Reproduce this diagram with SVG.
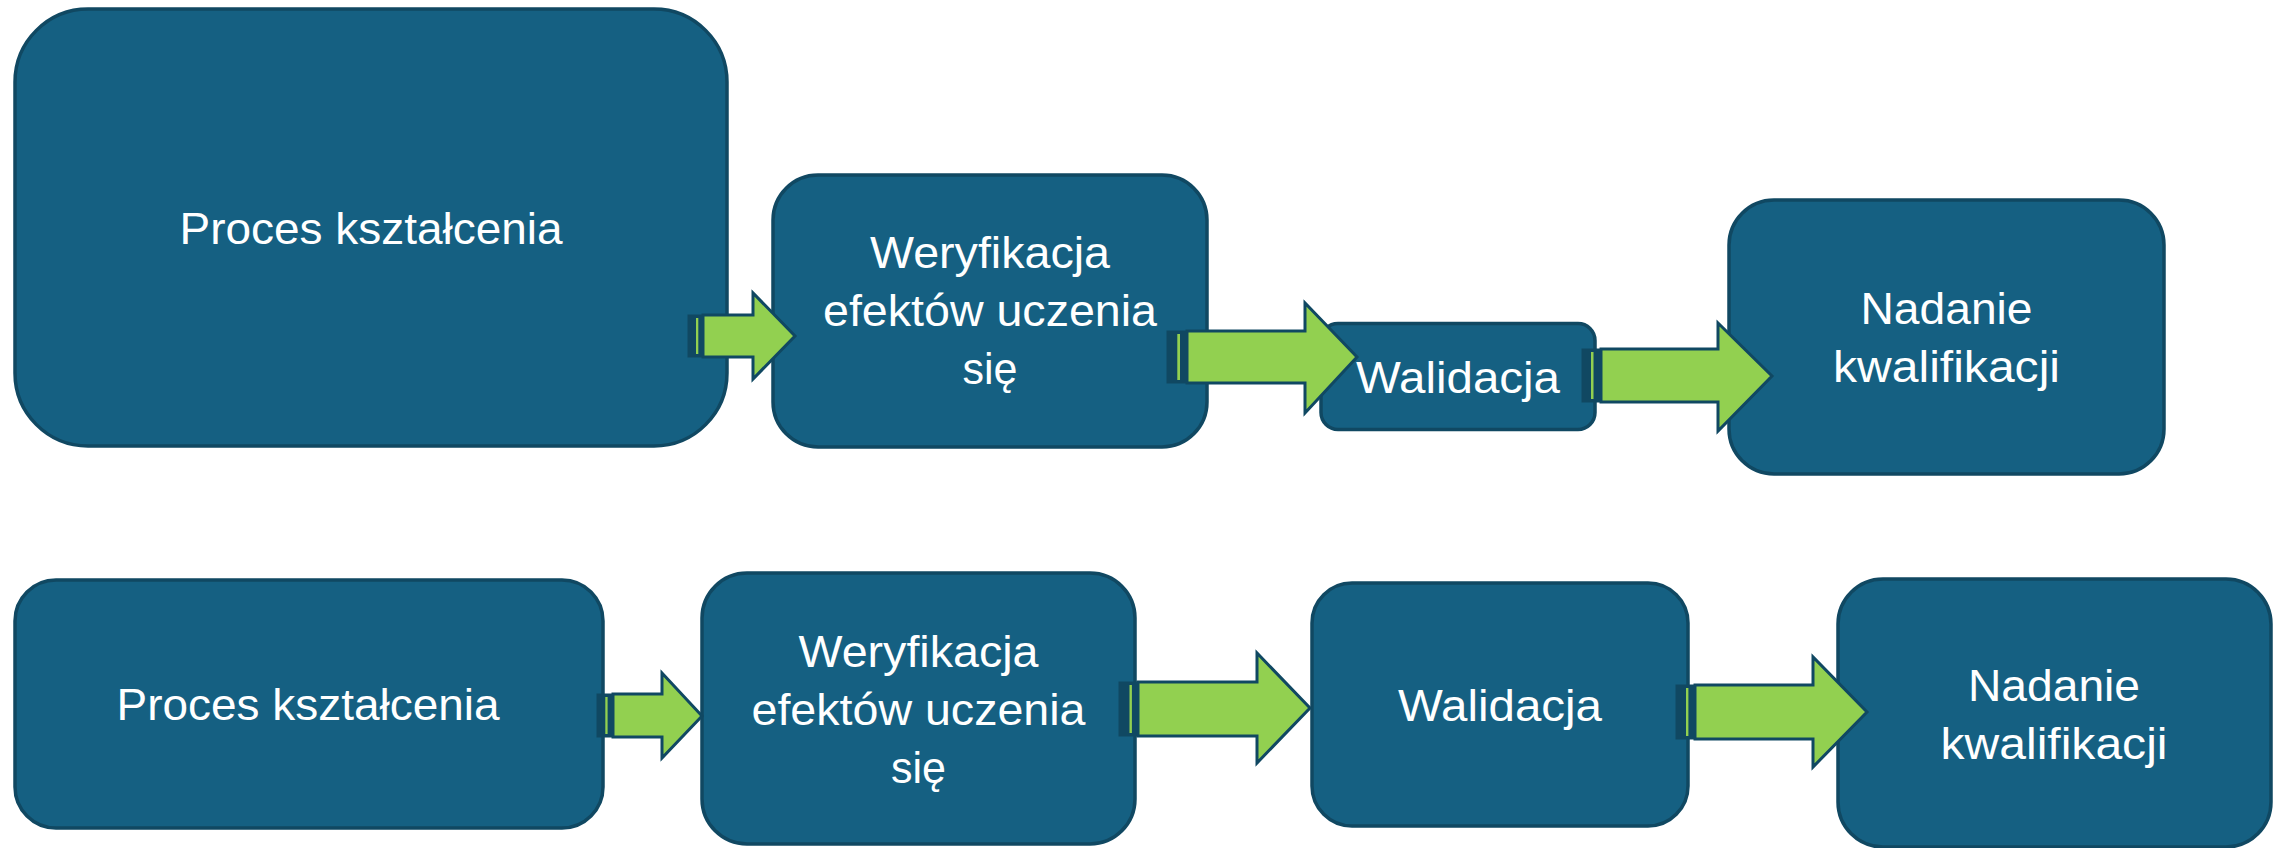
<svg xmlns="http://www.w3.org/2000/svg" width="2285" height="848" viewBox="0 0 2285 848">
<style>
.box{fill:#156082;stroke:#104862;stroke-width:3.5}
.lbl{font-family:"Liberation Sans",Arial,sans-serif;font-size:44px;fill:#ffffff;text-anchor:middle}
.body{fill:#92D050;stroke:#104862;stroke-width:3;stroke-linejoin:miter}
.stub{fill:#104862;stroke:#104862;stroke-width:1}
.strip{fill:#92D050}
</style>
<rect width="2285" height="848" fill="#ffffff"/>
<g id="node-proces-top">
<rect class="box" x="15" y="9" width="712" height="437" rx="73" ry="73"/>
<text class="lbl" x="371" y="243.5" textLength="383" lengthAdjust="spacingAndGlyphs">Proces kształcenia</text>
</g>
<g id="node-weryfikacja-top">
<rect class="box" x="773" y="175" width="434" height="272" rx="45" ry="45"/>
<text class="lbl" x="990" y="268" textLength="240" lengthAdjust="spacingAndGlyphs">Weryfikacja</text>
<text class="lbl" x="990" y="326" textLength="334" lengthAdjust="spacingAndGlyphs">efektów uczenia</text>
<text class="lbl" x="990" y="384" textLength="55" lengthAdjust="spacingAndGlyphs">się</text>
</g>
<g id="node-walidacja-top">
<rect class="box" x="1321" y="323.5" width="274" height="106" rx="17" ry="17"/>
<text class="lbl" x="1458" y="392.5" textLength="204" lengthAdjust="spacingAndGlyphs">Walidacja</text>
</g>
<g id="node-nadanie-top">
<rect class="box" x="1729" y="200" width="435" height="274" rx="45" ry="45"/>
<text class="lbl" x="1946.5" y="324" textLength="172" lengthAdjust="spacingAndGlyphs">Nadanie</text>
<text class="lbl" x="1946.5" y="382" textLength="227" lengthAdjust="spacingAndGlyphs">kwalifikacji</text>
</g>
<g id="node-proces-bottom">
<rect class="box" x="15" y="580" width="588" height="248" rx="41" ry="41"/>
<text class="lbl" x="308" y="720" textLength="383" lengthAdjust="spacingAndGlyphs">Proces kształcenia</text>
</g>
<g id="node-weryfikacja-bottom">
<rect class="box" x="702" y="573" width="433" height="271" rx="45" ry="45"/>
<text class="lbl" x="918.5" y="666.5" textLength="240" lengthAdjust="spacingAndGlyphs">Weryfikacja</text>
<text class="lbl" x="918.5" y="724.5" textLength="334" lengthAdjust="spacingAndGlyphs">efektów uczenia</text>
<text class="lbl" x="918.5" y="782.5" textLength="55" lengthAdjust="spacingAndGlyphs">się</text>
</g>
<g id="node-walidacja-bottom">
<rect class="box" x="1312" y="583" width="376" height="243" rx="40" ry="40"/>
<text class="lbl" x="1500" y="720.5" textLength="204" lengthAdjust="spacingAndGlyphs">Walidacja</text>
</g>
<g id="node-nadanie-bottom">
<rect class="box" x="1838" y="579" width="433" height="268" rx="45" ry="45"/>
<text class="lbl" x="2054" y="701" textLength="172" lengthAdjust="spacingAndGlyphs">Nadanie</text>
<text class="lbl" x="2054" y="759" textLength="227" lengthAdjust="spacingAndGlyphs">kwalifikacji</text>
</g>
<g id="connectors">
<g id="arrow-1">
<rect class="stub" x="688" y="315" width="15" height="42"/>
<rect class="strip" x="696" y="318" width="2.3" height="36"/>
<polygon class="body" points="703,315 753,315 753,293 795,336 753,379 753,357 703,357"/>
</g>
<g id="arrow-2">
<rect class="stub" x="1167" y="331" width="20" height="52"/>
<rect class="strip" x="1177.3" y="334" width="2.7" height="46"/>
<polygon class="body" points="1187,331 1305,331 1305,303 1357,357 1305,413 1305,383 1187,383"/>
</g>
<g id="arrow-3">
<rect class="stub" x="1582" y="349" width="19" height="53"/>
<rect class="strip" x="1591" y="352" width="2.5" height="47"/>
<polygon class="body" points="1601,349 1718,349 1718,323 1772,376 1718,431 1718,402 1601,402"/>
</g>
<g id="arrow-4">
<rect class="stub" x="597" y="694" width="16" height="43"/>
<rect class="strip" x="605.3" y="697" width="2.3" height="37"/>
<polygon class="body" points="613,694 662,694 662,673 702,716 662,758 662,737 613,737"/>
</g>
<g id="arrow-5">
<rect class="stub" x="1119" y="682" width="19" height="54"/>
<rect class="strip" x="1129.5" y="685" width="2.4" height="48"/>
<polygon class="body" points="1138,682 1257,682 1257,653 1310,708 1257,763 1257,736 1138,736"/>
</g>
<g id="arrow-6">
<rect class="stub" x="1676" y="685" width="19" height="54"/>
<rect class="strip" x="1686" y="688" width="2.4" height="48"/>
<polygon class="body" points="1695,685 1813,685 1813,657 1867,712 1813,767 1813,739 1695,739"/>
</g>
</g>
</svg>
